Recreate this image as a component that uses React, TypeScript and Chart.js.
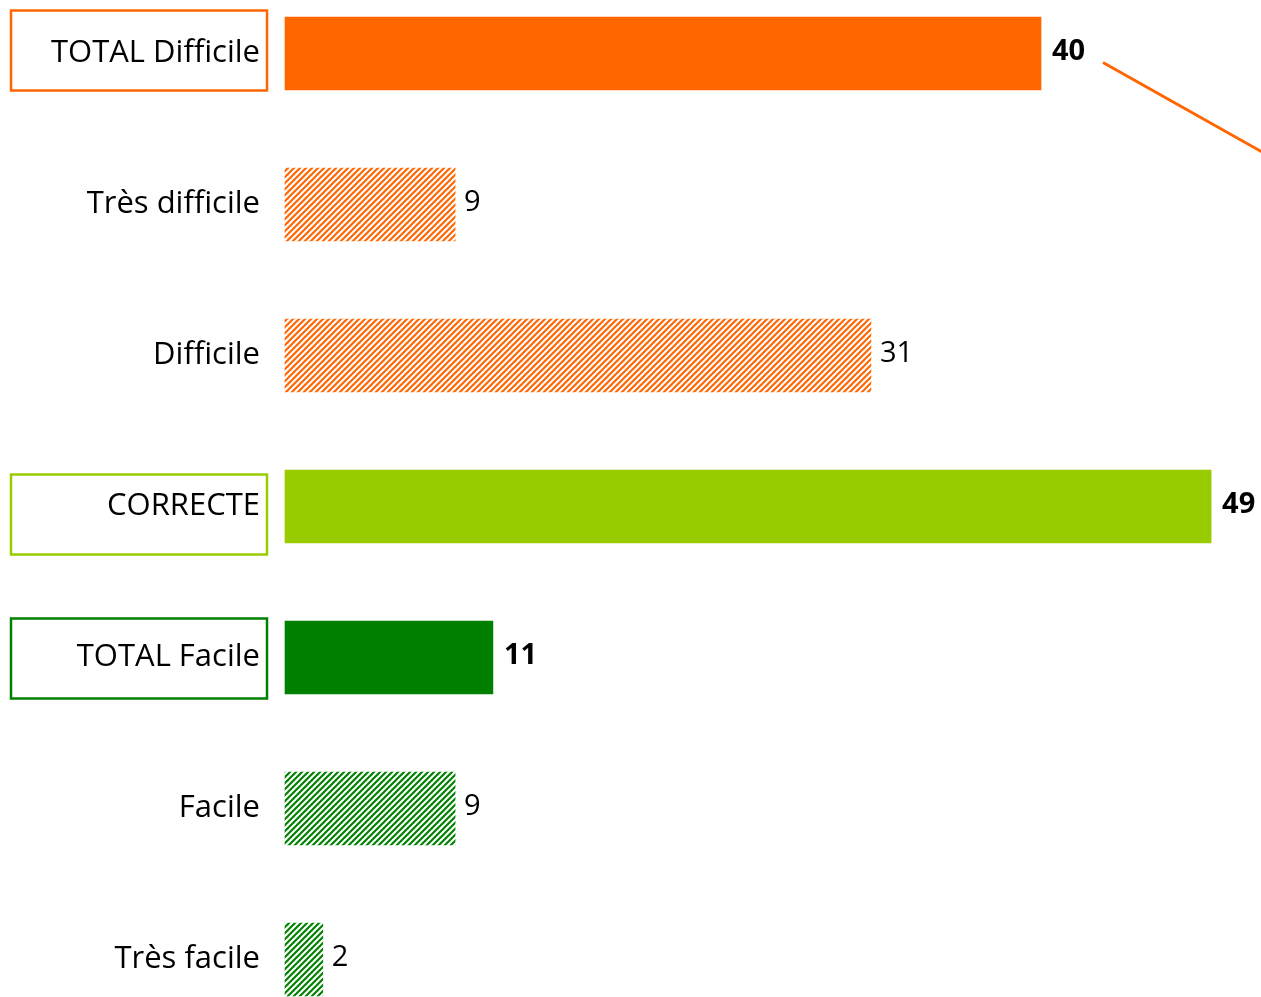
import React, { useEffect, useRef } from "react";
import { Chart, registerables } from "chart.js";

Chart.register(...registerables);

const categories = ["TOTAL Difficile", "Très difficile", "Difficile", "CORRECTE", "TOTAL Facile", "Facile", "Très facile"];
const values = [40, 9, 31, 49, 11, 9, 2];
const isTotal = [true, false, false, true, true, false, false];
const baseColors = ["#FF6600", "#FF6600", "#FF6600", "#99CC00", "#008000", "#008000", "#008000"];
const hatched = [false, true, true, false, false, true, true];
const boxOffsets = [-43, 0, 0, -32, -39, 0, 0];

function makePattern(color: string): CanvasPattern | string {
  const s = 6;
  const c = document.createElement("canvas");
  c.width = s;
  c.height = s;
  const ctx = c.getContext("2d");
  if (!ctx) return color;
  ctx.fillStyle = "#ffffff";
  ctx.fillRect(0, 0, s, s);
  ctx.strokeStyle = color;
  ctx.lineWidth = 2.1;
  for (let k = -1; k <= 1; k++) {
    ctx.beginPath();
    ctx.moveTo(k * s - 1, s + 1);
    ctx.lineTo(k * s + s + 1, -1);
    ctx.stroke();
  }
  const p = ctx.createPattern(c, "repeat");
  return p || color;
}

const FONT = "'Open Sans', sans-serif";

const labelPlugin = {
  id: "sideLabels",
  afterDatasetsDraw(chart: any) {
    const ctx = chart.ctx;
    const meta = chart.getDatasetMeta(0);
    ctx.save();
    meta.data.forEach((bar: any, i: number) => {
      const y = bar.y;
      ctx.font = `31px ${FONT}`;
      ctx.fillStyle = "#000000";
      ctx.textAlign = "right";
      ctx.textBaseline = "middle";
      ctx.fillText(categories[i], 260, y);
      if (isTotal[i]) {
        ctx.strokeStyle = baseColors[i];
        ctx.lineWidth = 2.5;
        ctx.strokeRect(11, y + boxOffsets[i], 256, 80);
      }
      ctx.font = `${isTotal[i] ? "bold " : ""}29px ${FONT}`;
      ctx.textAlign = "left";
      ctx.fillText(String(values[i]), bar.x + (isTotal[i] ? 11 : 9), y - 2);
    });
    const b0 = meta.data[0];
    ctx.strokeStyle = "#FF6600";
    ctx.lineWidth = 3;
    ctx.beginPath();
    ctx.moveTo(b0.x + 62, b0.y + 9);
    ctx.lineTo(b0.x + 222, b0.y + 99);
    ctx.stroke();
    ctx.restore();
  },
};

export default function App() {
  const ref = useRef<HTMLCanvasElement>(null);
  useEffect(() => {
    document.body.style.margin = "0";
    if (!ref.current) return;
    const colors = baseColors.map((c, i) => (hatched[i] ? makePattern(c) : c));
    const chart = new Chart(ref.current, {
      type: "bar",
      data: {
        labels: categories,
        datasets: [
          {
            data: values,
            backgroundColor: colors as any,
            borderWidth: 0,
            barThickness: 73,
            clip: false as any,
          },
        ],
      },
      options: {
        indexAxis: "y",
        animation: false,
        responsive: false,
        maintainAspectRatio: false,
        layout: { padding: { left: 285, right: 31, top: 53.5, bottom: 37.5 } },
        plugins: { legend: { display: false }, tooltip: { enabled: false } },
        scales: {
          x: { min: 0, max: 50, display: false, grid: { display: false } },
          y: { display: false, offset: false, grid: { display: false } },
        },
      },
      plugins: [labelPlugin],
    });
    return () => chart.destroy();
  }, []);
  return (
    <div style={{ position: "fixed", left: 0, top: 0, width: 1261, height: 997, background: "#ffffff" }}>
      <canvas ref={ref} width={1261} height={997} style={{ display: "block" }} />
    </div>
  );
}
